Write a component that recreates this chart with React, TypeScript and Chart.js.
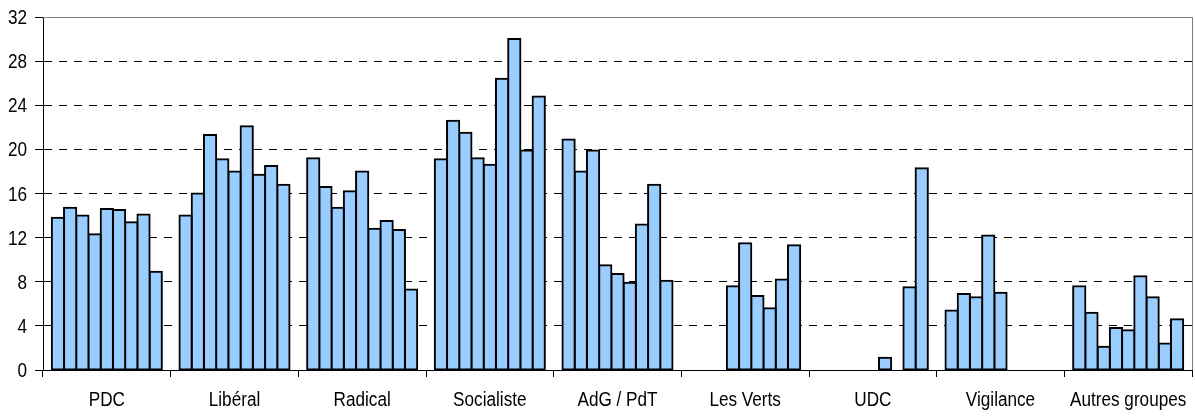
import React, { useEffect, useRef } from "react";
import { Chart, registerables } from "chart.js";

Chart.register(...registerables);

// Categories (parties) shown on the x axis
const categories = [
  "PDC",
  "Libéral",
  "Radical",
  "Socialiste",
  "AdG / PdT",
  "Les Verts",
  "UDC",
  "Vigilance",
  "Autres groupes",
];

// Series (successive elections), not shown in a legend
const seriesLabels = [
  "Élection 1",
  "Élection 2",
  "Élection 3",
  "Élection 4",
  "Élection 5",
  "Élection 6",
  "Élection 7",
  "Élection 8",
  "Élection 9",
];

// Values per party, one per election (null = no list)
const pdc = [13.8, 14.7, 14.0, 12.3, 14.6, 14.5, 13.4, 14.1, 8.9];
const liberal = [14.0, 16.0, 21.3, 19.1, 18.0, 22.1, 17.7, 18.5, 16.8];
const radical = [19.2, 16.6, 14.7, 16.2, 18.0, 12.8, 13.5, 12.7, 7.3];
const socialiste = [19.1, 22.6, 21.5, 19.2, 18.6, 26.4, 30.0, 19.9, 24.8];
const adgPdt = [20.9, 18.0, 19.9, 9.5, 8.7, 7.9, 13.2, 16.8, 8.1];
const lesVerts = [null, null, null, 7.6, 11.5, 6.7, 5.6, 8.2, 11.3];
const udc = [null, null, null, null, null, 1.1, null, 7.5, 18.3];
const vigilance = [5.4, 6.9, 6.6, 12.2, 7.0, null, null, null, null];
const autres = [7.6, 5.2, 2.1, 3.8, 3.6, 8.5, 6.6, 2.4, 4.6];

const partyValues = [pdc, liberal, radical, socialiste, adgPdt, lesVerts, udc, vigilance, autres];

// Y axis ticks
const yMin = 0;
const yMax = 32;
const yStep = 4;

const FONT_FAMILY = "'Liberation Sans', Arial, sans-serif";
const FONT_SIZE = 19.5;
const NARROW = 0.88;

const framePlugin = {
  id: "frame",
  beforeDatasetsDraw(chart: any) {
    const { ctx, chartArea } = chart;
    ctx.save();
    ctx.strokeStyle = "#808080";
    ctx.lineWidth = 1;
    ctx.beginPath();
    const t = Math.round(chartArea.top) + 0.5;
    const r = Math.round(chartArea.right) + 0.5;
    ctx.moveTo(chartArea.left, t);
    ctx.lineTo(r, t);
    ctx.lineTo(r, chartArea.bottom);
    ctx.stroke();
    ctx.restore();
  },
};

// Narrow (condensed) tick labels, drawn at the positions given by the scales
const narrowLabelsPlugin = {
  id: "narrowLabels",
  afterDraw(chart: any) {
    const { ctx } = chart;
    const xs = chart.scales.x;
    const ys = chart.scales.y;
    ctx.save();
    ctx.fillStyle = "#000000";
    ctx.font = `${FONT_SIZE}px ${FONT_FAMILY}`;
    ctx.textBaseline = "alphabetic";

    ctx.textAlign = "center";
    xs.ticks.forEach((_t: any, i: number) => {
      const label = String(chart.data.labels[i]);
      const x = xs.getPixelForTick(i);
      ctx.save();
      ctx.translate(x, xs.top + 36);
      ctx.scale(NARROW, 1);
      ctx.fillText(label, 0, 0);
      ctx.restore();
    });

    ctx.textAlign = "right";
    ys.ticks.forEach((t: any, i: number) => {
      const y = ys.getPixelForTick(i);
      ctx.save();
      ctx.translate(ys.right - 16, y + 7);
      ctx.scale(NARROW, 1);
      ctx.fillText(String(t.value), 0, 0);
      ctx.restore();
    });
    ctx.restore();
  },
};

export default function App() {
  const canvasRef = useRef<HTMLCanvasElement | null>(null);

  useEffect(() => {
    const canvas = canvasRef.current;
    if (!canvas) return;

    const datasets = seriesLabels.map((label, si) => ({
      label,
      data: partyValues.map((vals) => vals[si]),
      backgroundColor: "#99CCFF",
      borderColor: "#000000",
      borderWidth: 2,
      borderSkipped: false as const,
      inflateAmount: 1,
      barPercentage: 1,
      categoryPercentage: 0.862,
    }));

    const chart = new Chart(canvas, {
      type: "bar",
      data: { labels: categories, datasets },
      plugins: [framePlugin, narrowLabelsPlugin],
      options: {
        animation: false,
        responsive: false,
        events: [],
        layout: { padding: { top: 17, right: 3, left: 0, bottom: 0 } },
        plugins: {
          legend: { display: false },
          tooltip: { enabled: false },
        },
        scales: {
          x: {
            grid: {
              offset: true,
              drawOnChartArea: false,
              drawTicks: true,
              tickLength: 7,
              color: "#000000",
              lineWidth: 1,
            },
            border: { display: true, color: "#000000", width: 1 },
            ticks: {
              display: false,
              autoSkip: false,
              maxRotation: 0,
            },
            afterFit: (scale: any) => {
              scale.height = 46;
            },
          },
          y: {
            min: yMin,
            max: yMax,
            ticks: {
              display: false,
              stepSize: yStep,
            },
            grid: {
              color: (ctx: any) => (ctx.tick && ctx.tick.value === yMax ? "#808080" : "#000000"),
              tickColor: "#000000",
              tickLength: 8,
              lineWidth: 1,
            },
            border: {
              display: true,
              color: "#000000",
              width: 1,
              dash: (ctx: any) => (ctx.tick && ctx.tick.value === yMax ? [] : [8, 7]),
            },
            afterFit: (scale: any) => {
              scale.width = 43;
            },
          },
        },
      },
    });

    return () => {
      chart.destroy();
    };
  }, []);

  return (
    <div style={{ position: "absolute", left: 0, top: 0, width: 1195, height: 416, background: "#fff" }}>
      <canvas ref={canvasRef} width={1195} height={416} style={{ display: "block" }} />
    </div>
  );
}
